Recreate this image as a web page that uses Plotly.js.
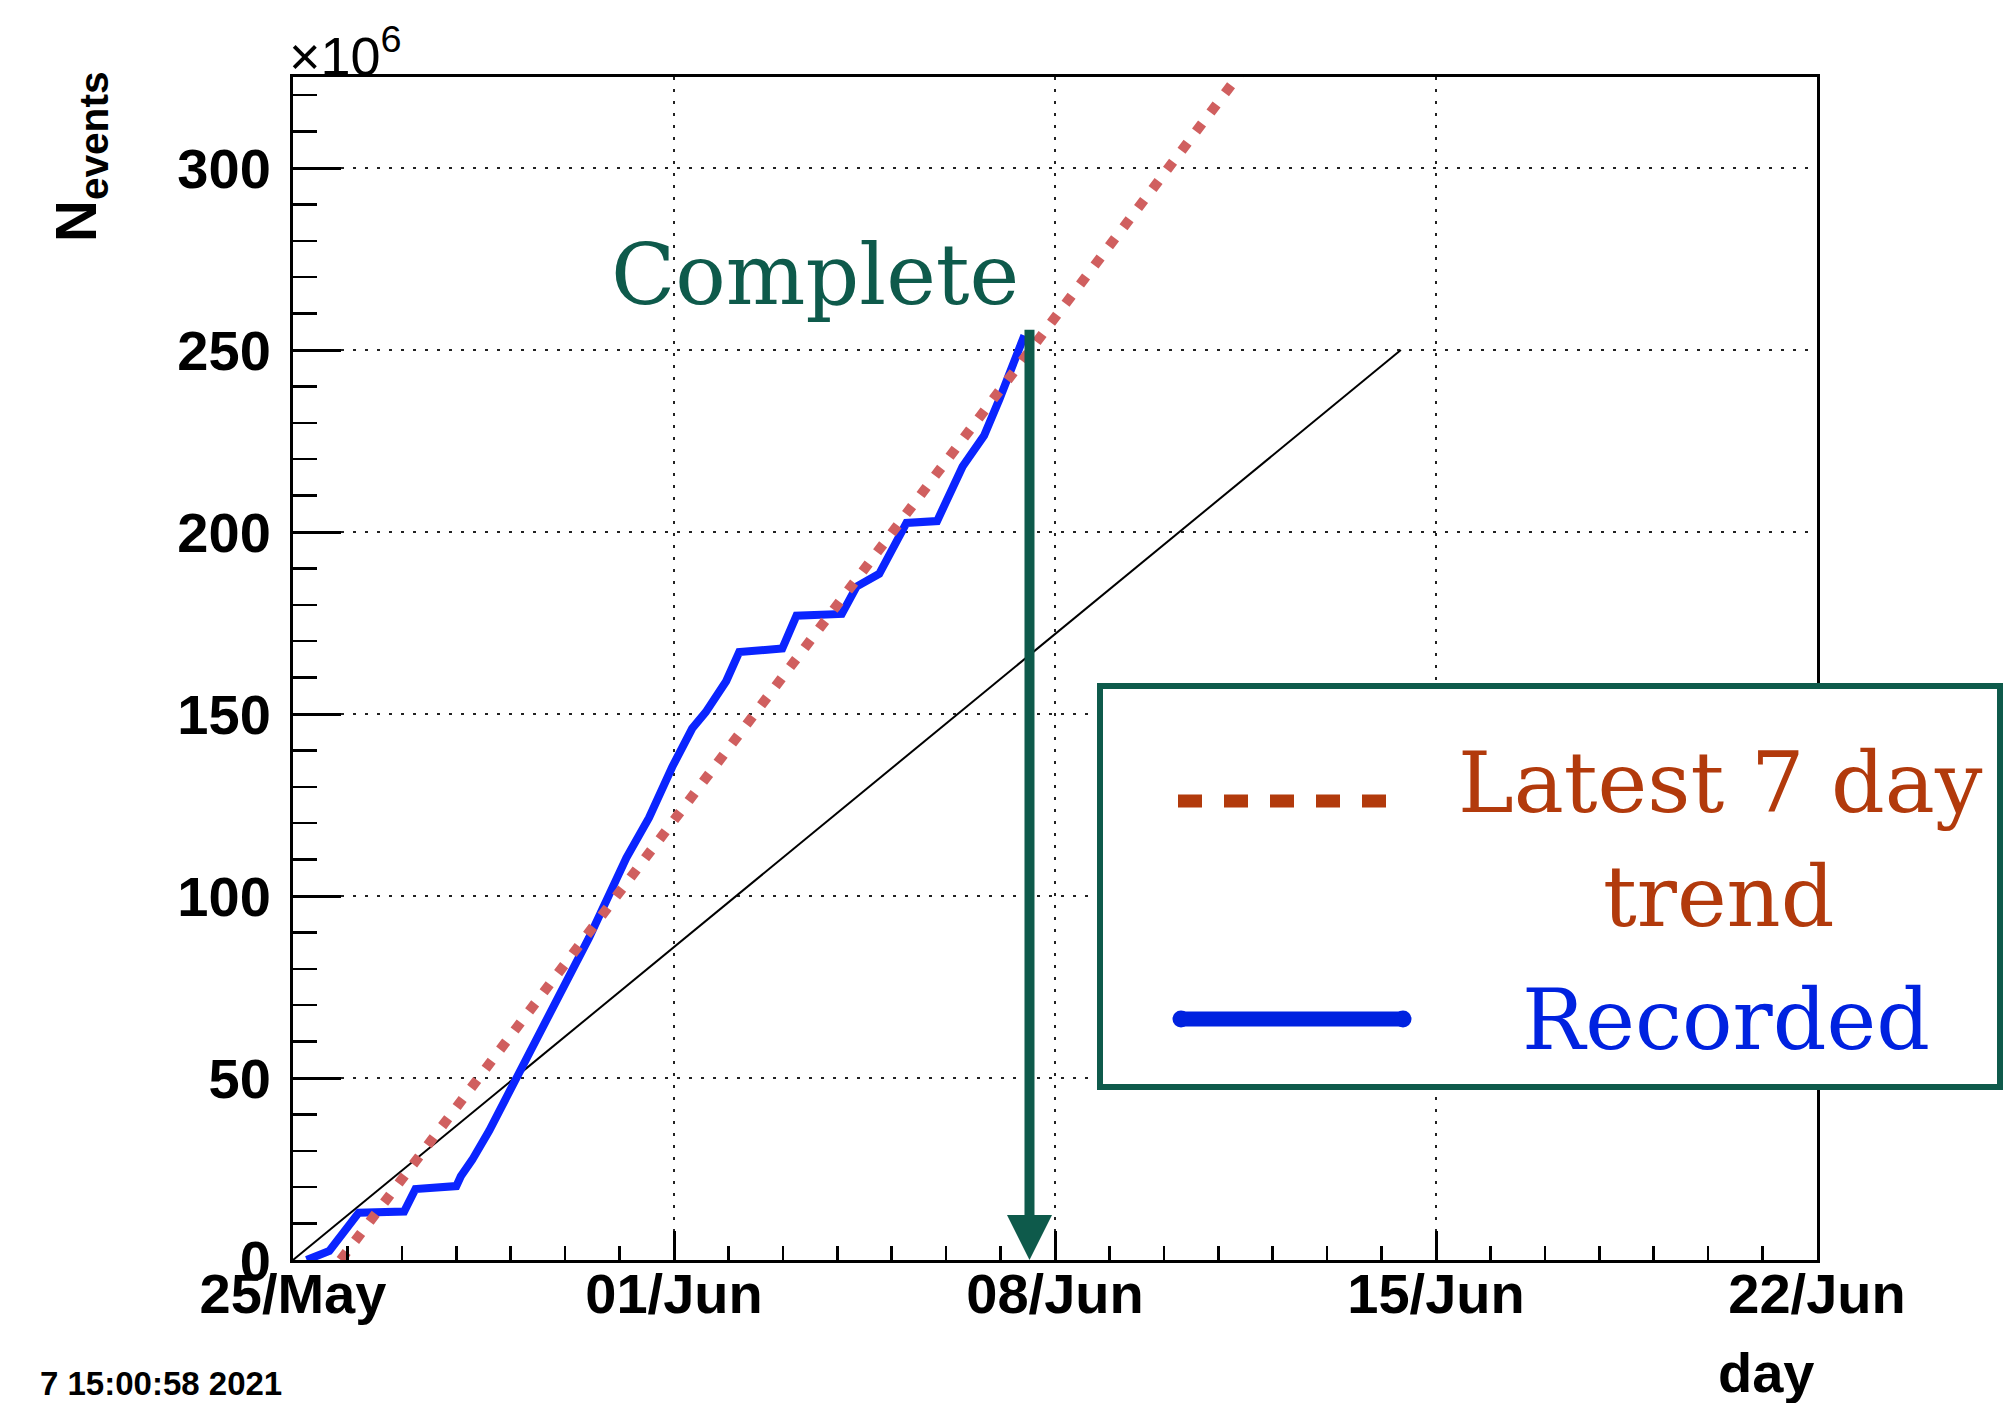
<!DOCTYPE html>
<html>
<head>
<meta charset="utf-8">
<script src="https://cdn.plot.ly/plotly-3.0.1.min.js"></script>
<style>
  html, body { margin: 0; padding: 0; background: #ffffff; }
  #chart { width: 2004px; height: 1403px; }
</style>
</head>
<body>
<div id="chart"></div>
<script>
// Cumulative recorded events (millions)
const recordedTime = [
  '2021-05-25 06:00', '2021-05-25 16:00', '2021-05-26 05:00', '2021-05-27 01:00',
  '2021-05-27 06:00', '2021-05-28 00:00', '2021-05-28 02:00', '2021-05-28 07:00',
  '2021-05-28 14:30', '2021-05-29 00:45', '2021-05-29 04:00', '2021-05-29 12:30',
  '2021-05-29 20:00', '2021-05-30 10:30', '2021-05-31 03:00', '2021-05-31 13:00',
  '2021-05-31 23:15', '2021-06-01 08:00', '2021-06-01 14:00', '2021-06-01 23:00',
  '2021-06-02 04:45', '2021-06-02 23:45', '2021-06-03 06:00', '2021-06-04 02:00',
  '2021-06-04 08:30', '2021-06-04 12:45', '2021-06-04 18:30', '2021-06-05 06:30',
  '2021-06-05 20:00', '2021-06-06 07:15', '2021-06-06 13:30', '2021-06-06 16:45',
  '2021-06-06 23:30', '2021-06-07 10:30'
];
const recordedEvents = [
  0, 2.5, 13, 13.3,
  19.5, 20.3, 23, 27.5,
  35.5, 48, 51.5, 62.5,
  71, 88.5, 110.5, 121.5,
  135.5, 146, 150.5, 159,
  167, 168, 177, 177.5,
  185, 186.5, 188.5, 202.5,
  203, 218, 223.5, 226.5,
  236.5, 254
];

// Linear trend from the latest 7 days
const trendTime = ['2021-05-25 21:00', '2021-06-12 02:40'];
const trendEvents = [0, 340];

// Planned pace
const targetTime = ['2021-05-25 00:00', '2021-06-14 08:30'];
const targetEvents = [0, 250];

// Completion marker
const completeTime = '2021-06-07 12:45';
const completeEvents = 256;

// Axis ticks
const xTickVals = ['2021-05-25', '2021-06-01', '2021-06-08', '2021-06-15', '2021-06-22'];
const xTickText = ['25/May', '01/Jun', '08/Jun', '15/Jun', '22/Jun'];
const yTickVals = [0, 50, 100, 150, 200, 250, 300];
const yTickText = ['0', '50', '100', '150', '200', '250', '300'];

const W = 2004, H = 1403;
const M = { l: 293, r: 187, t: 77, b: 143 };
const plotW = W - M.l - M.r, plotH = H - M.t - M.b;
// page pixel -> paper fraction (for text and frame placement)
const px = v => (v - M.l) / plotW;
const py = v => (H - M.b - v) / plotH;

const GREEN = '#0e5a4b';
const RUST = '#b23a0c';
const BLUE_TXT = '#0022e0';
const SANS = 'Liberation Sans, Arial, Helvetica, sans-serif';
const SERIF = 'DejaVu Serif, serif';

const traces = [
  {
    x: targetTime, y: targetEvents, type: 'scatter', mode: 'lines',
    line: { color: '#000000', width: 2 }, hoverinfo: 'skip'
  },
  {
    x: recordedTime, y: recordedEvents, type: 'scatter', mode: 'lines',
    line: { color: '#0a24ff', width: 8 }, hoverinfo: 'skip'
  },
  {
    x: trendTime, y: trendEvents, type: 'scatter', mode: 'lines',
    line: { color: '#d05f5f', width: 10, dash: '10px,14px' }, hoverinfo: 'skip'
  }
];

const gridStyle = { showgrid: true, gridcolor: '#222222', gridwidth: 2.5, griddash: '3px,9px' };

const layout = {
  width: W, height: H,
  margin: { l: M.l, r: M.r, t: M.t, b: M.b, pad: 0 },
  paper_bgcolor: '#ffffff', plot_bgcolor: '#ffffff',
  showlegend: false,
  hovermode: false,
  xaxis: Object.assign({
    type: 'date',
    range: ['2021-05-25', '2021-06-22'],
    tickmode: 'array', tickvals: xTickVals, ticktext: xTickText,
    ticks: 'inside', ticklen: 29, tickwidth: 3, tickcolor: '#000',
    minor: { tickmode: 'linear', tick0: '2021-05-25', dtick: 86400000,
             ticks: 'inside', ticklen: 14, tickwidth: 2.5, tickcolor: '#000', showgrid: false },
    showline: true, linecolor: '#000', linewidth: 3, mirror: true,
    zeroline: false,
    tickfont: { family: SANS, size: 56, color: '#000', weight: 'bold' },
    ticklabelstandoff: -17,
    fixedrange: true
  }, gridStyle),
  yaxis: Object.assign({
    range: [0, 325],
    tickmode: 'array', tickvals: yTickVals, ticktext: yTickText,
    ticks: 'inside', ticklen: 48, tickwidth: 3, tickcolor: '#000',
    minor: { tickmode: 'linear', tick0: 0, dtick: 10,
             ticks: 'inside', ticklen: 24, tickwidth: 2.5, tickcolor: '#000', showgrid: false },
    showline: true, linecolor: '#000', linewidth: 3, mirror: true,
    zeroline: false,
    tickfont: { family: SANS, size: 56, color: '#000', weight: 'bold' },
    ticklabelstandoff: 8,
    fixedrange: true
  }, gridStyle),
  shapes: [
    // legend frame
    {
      type: 'rect', xref: 'paper', yref: 'paper', layer: 'above',
      x0: px(1100), x1: px(2000), y0: py(1087), y1: py(686),
      line: { color: GREEN, width: 6 }, fillcolor: '#ffffff'
    },
    // legend sample: trend
    {
      type: 'line', xref: 'paper', yref: 'paper', layer: 'above',
      x0: px(1178), x1: px(1408), y0: py(801), y1: py(801),
      line: { color: RUST, width: 13, dash: '24px,22px' }
    },
    // legend sample: recorded
    {
      type: 'line', xref: 'paper', yref: 'paper', layer: 'above',
      x0: px(1181), x1: px(1403), y0: py(1019), y1: py(1019),
      line: { color: BLUE_TXT, width: 15 }
    },
    {
      type: 'circle', xref: 'paper', yref: 'paper', layer: 'above',
      xsizemode: 'pixel', ysizemode: 'pixel',
      xanchor: px(1181), yanchor: py(1019), x0: -8.5, x1: 8.5, y0: -8.5, y1: 8.5,
      line: { width: 0 }, fillcolor: BLUE_TXT
    },
    {
      type: 'circle', xref: 'paper', yref: 'paper', layer: 'above',
      xsizemode: 'pixel', ysizemode: 'pixel',
      xanchor: px(1403), yanchor: py(1019), x0: -8.5, x1: 8.5, y0: -8.5, y1: 8.5,
      line: { width: 0 }, fillcolor: BLUE_TXT
    }
  ],
  annotations: [
    // completion arrow
    {
      x: completeTime, y: 0, xref: 'x', yref: 'y',
      ax: completeTime, ay: completeEvents, axref: 'x', ayref: 'y',
      text: '', showarrow: true, arrowhead: 2, arrowsize: 0.9, arrowwidth: 10,
      arrowcolor: GREEN, standoff: 0
    },
    {
      text: 'Complete', xref: 'paper', yref: 'paper',
      x: px(815), y: py(275), xanchor: 'center', yanchor: 'middle', showarrow: false,
      font: { family: SERIF, size: 84, color: GREEN }
    },
    {
      text: '×10<sup>6</sup>', xref: 'paper', yref: 'paper',
      x: px(287), y: 1, xanchor: 'left', yanchor: 'bottom', yshift: -11, showarrow: false,
      font: { family: SANS, size: 54, color: '#000' }
    },
    {
      text: 'N<sub>events</sub>', xref: 'paper', yref: 'paper', textangle: -90,
      x: px(80), y: py(70), xanchor: 'center', yanchor: 'top', showarrow: false,
      font: { family: SANS, size: 58, color: '#000', weight: 'bold' }
    },
    {
      text: 'day', xref: 'paper', yref: 'paper',
      x: 1, y: py(1339), xanchor: 'right', yanchor: 'top', showarrow: false,
      font: { family: SANS, size: 56, color: '#000', weight: 'bold' }
    },
    {
      text: '7 15:00:58 2021', xref: 'paper', yref: 'paper',
      x: px(38), y: py(1383), xanchor: 'left', yanchor: 'middle', showarrow: false,
      font: { family: SANS, size: 33, color: '#000', weight: 'bold' }
    },
    {
      text: 'Latest 7 day', xref: 'paper', yref: 'paper',
      x: px(1720), y: py(783), xanchor: 'center', yanchor: 'middle', showarrow: false,
      font: { family: SERIF, size: 84, color: RUST }
    },
    {
      text: 'trend', xref: 'paper', yref: 'paper',
      x: px(1719), y: py(897), xanchor: 'center', yanchor: 'middle', showarrow: false,
      font: { family: SERIF, size: 84, color: RUST }
    },
    {
      text: 'Recorded', xref: 'paper', yref: 'paper',
      x: px(1726), y: py(1020), xanchor: 'center', yanchor: 'middle', showarrow: false,
      font: { family: SERIF, size: 84, color: BLUE_TXT }
    }
  ]
};

Plotly.newPlot('chart', traces, layout, { displayModeBar: false, staticPlot: true });
</script>
</body>
</html>
